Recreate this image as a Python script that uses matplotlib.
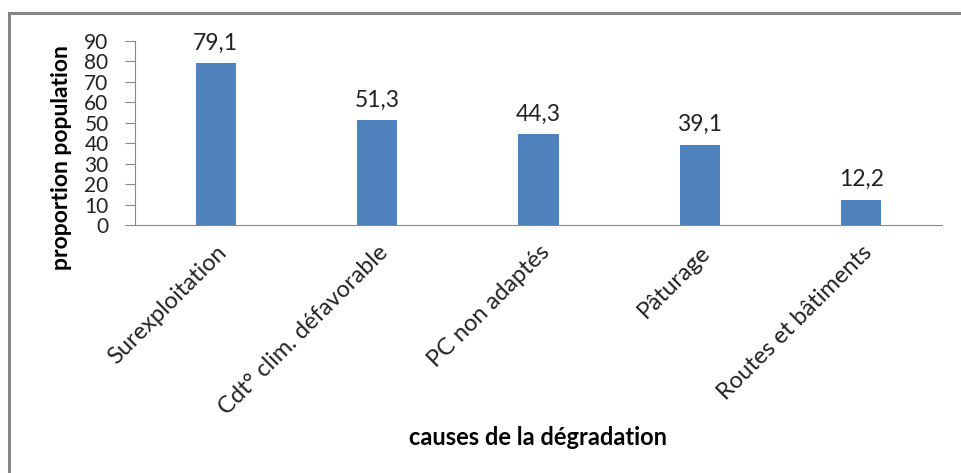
import matplotlib
matplotlib.use("Agg")
import matplotlib.pyplot as plt
from matplotlib.patches import Rectangle

categories = ["Surexploitation", "Cdt° clim. défavorable", "PC non adaptés",
              "Pâturage", "Routes et bâtiments"]
values = [79.1, 51.3, 44.3, 39.1, 12.2]
value_labels = ["79,1", "51,3", "44,3", "39,1", "12,2"]
yticks = [0, 10, 20, 30, 40, 50, 60, 70, 80, 90]

plt.rcParams['font.family'] = ['Lato', 'DejaVu Sans']

W, H = 961, 473
fig = plt.figure(figsize=(W / 100, H / 100), dpi=100)
fig.patch.set_facecolor("white")

# chart frame, running off the right and bottom edges
fig.patches.append(Rectangle((9 / W, -0.05), 1.0, 1 - 13 / H + 0.05,
                             transform=fig.transFigure, fill=False,
                             edgecolor="#878787", linewidth=2.2, zorder=0))

ax = fig.add_axes([135 / W, 1 - 225 / H, (942 - 135) / W, (225 - 41) / H])
x = range(len(categories))
ax.bar(x, values, width=0.25, color="#4F81BD", zorder=2)
for xi, v, lab in zip(x, values, value_labels):
    ax.annotate(lab, (xi, v), xytext=(0, 7), textcoords="offset points",
                ha="center", va="bottom", fontsize=16.5, color="#222222")

ax.set_xlim(-0.5, len(categories) - 0.5)
ax.set_ylim(0, 90)
ax.set_yticks(yticks)
ax.set_yticklabels([str(t) for t in yticks], fontsize=15, color="#222222")
ax.set_xticks(list(x))
ax.set_xticklabels(categories, rotation=45, ha="right", rotation_mode="anchor",
                   fontsize=17, color="#222222")
ax.tick_params(axis="x", length=0, pad=12)
ax.tick_params(axis="y", length=7, color="#888888", pad=12)
for s in ("top", "right"):
    ax.spines[s].set_visible(False)
ax.spines["left"].set_color("#888888")
ax.spines["bottom"].set_color("#888888")

fig.text(62 / W, 1 - 158 / H, "proportion population", rotation=90,
         ha="center", va="center", fontsize=16.5, fontweight="bold")
fig.text(538 / W, 1 - 437 / H, "causes de la dégradation",
         ha="center", va="center", fontsize=17, fontweight="bold")

fig.savefig("out.png", dpi=100, facecolor="white")
